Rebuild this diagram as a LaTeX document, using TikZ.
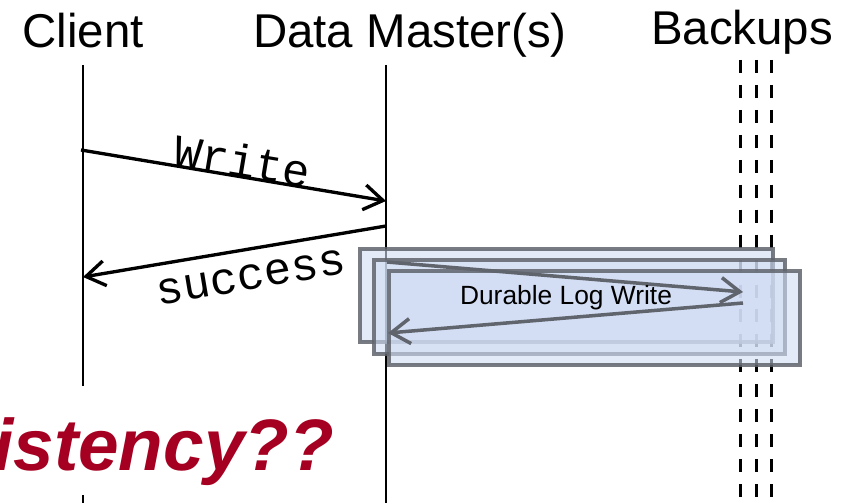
\documentclass[tikz,border=0pt]{standalone}
\usepackage{fontspec}
\setmainfont{Liberation Sans}
\newfontfamily\msgfont{Liberation Mono}
\usetikzlibrary{arrows.meta}
\definecolor{alertred}{RGB}{165,0,33}
\definecolor{loggray}{RGB}{96,100,108}
\definecolor{logblue}{RGB}{208,220,243}

\begin{document}
\begin{tikzpicture}[x=0.02cm,y=-0.02cm,>={Straight Barb[length=3.8mm,width=5mm]},
    head/.style={font=\fontsize{27}{30}\selectfont,anchor=base,inner sep=0pt},
    lifeline/.style={black,line width=1.3pt},
    backup/.style={black,line width=1.7pt,dash pattern=on 7.4pt off 6.8pt},
    msg/.style={->,black,line width=1.9pt},
    msglabel/.style={font=\msgfont\fontsize{26}{28}\selectfont,sloped,inner sep=0pt},
    logbox/.style={draw=loggray,draw opacity=0.85,line width=2.8pt,fill=logblue,fill opacity=0.6},
    logmsg/.style={->,loggray,line width=2pt}]
  \useasboundingbox (0,0) rectangle (848,503);

  % participants
  \node[head] (client) at (83,48) {Client};
  \node[head] (master) at (410,48) {Data Master(s)};
  \node[head] (backups) at (742,45) {Backups};

  % lifelines
  \coordinate (c top) at (83,65);   \coordinate (c bot) at (83,503);
  \coordinate (m top) at (386,65);  \coordinate (m bot) at (386,503);
  \foreach \bx [count=\i] in {740,756,771}{
    \coordinate (b\i top) at (\bx,60);
    \coordinate (b\i bot) at (\bx,503);
    \draw[backup] (b\i top) -- (b\i bot);
  }
  \draw[lifeline,line width=1.6pt] (c top) -- (c bot);
  \draw[lifeline] (m top) -- (m bot);

  % replication boxes
  \draw[logbox] (360,249) rectangle (773,342);
  \draw[logbox] (374,260) rectangle (785,354);
  \draw[logbox] (389,271) rectangle (800,365);

  % client request and reply
  \coordinate (w from) at (81,150); \coordinate (w to) at (386,201);
  \coordinate (s from) at (386,226); \coordinate (s to) at (83,277);
  \draw[msg] (w from) -- (w to) node[msglabel,pos=0.52,anchor=base] (wlabel) {Write};
  \draw[msg] (s from) -- (s to) node[msglabel,pos=0.46,anchor=north,yshift=-8pt] (slabel) {success};

  % durable log write to backups
  \coordinate (l from) at (387,262); \coordinate (l to) at (743,292);
  \coordinate (r from) at (743,303); \coordinate (r to) at (388,333);
  \draw[logmsg] (l from) -- (l to);
  \draw[logmsg] (r from) -- (r to);
  \node[font=\fontsize{15}{17}\selectfont] (logtext) at (566,298) {Durable Log Write};

  % question
  \node[anchor=base east,fill=white,inner sep=0pt,text height=48pt,text depth=14pt,
        text=alertred,font=\fontsize{41.5}{45}\selectfont\bfseries\itshape] (question) at (334,470) {Consistency??};
\end{tikzpicture}
\end{document}
